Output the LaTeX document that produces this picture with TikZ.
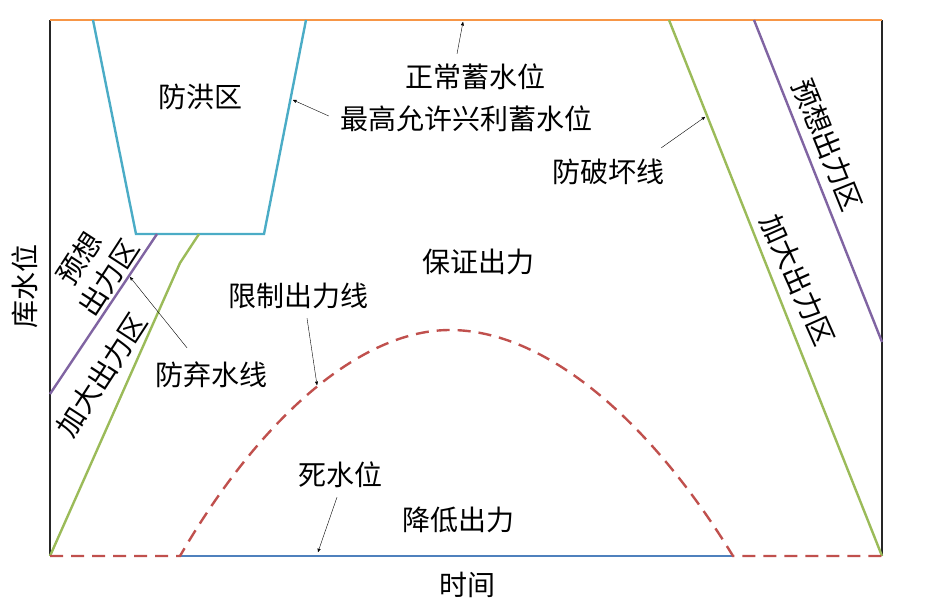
\documentclass[tikz,border=0pt]{standalone}
\usepackage{fontspec}
\newfontfamily\cjk{Noto Sans CJK SC}
\usetikzlibrary{arrows}
\definecolor{normorange}{HTML}{F79646}
\definecolor{floodcyan}{HTML}{4BACC6}
\definecolor{guardgreen}{HTML}{9BBB59}
\definecolor{prepurple}{HTML}{8064A2}
\definecolor{limitred}{HTML}{C0504D}
\definecolor{deadblue}{HTML}{4F81BD}
\tikzset{
    zone/.style={
           font=\cjk\fontsize{28}{35}\selectfont,
           inner sep=1pt,
           text centered,
           },
    curve/.style={line width=2.4pt},
    frame/.style={line width=1.3pt, draw=black!85},
    pointer/.style={->, thin, draw=black},
}
\begin{document}
\begin{tikzpicture}[x=1pt,y=-1pt,>=stealth']
 \useasboundingbox (0,0) rectangle (931,602);

 % frame of the chart
 \draw[frame] (50,20) -- (50,556);
 \draw[frame] (882,20) -- (882,556);
 \draw[curve, normorange] (50,20) -- (882,20);

 % flood control zone
 \draw[curve, floodcyan] (93,20) -- (136,234) -- (264,234) -- (306,20);

 % guide lines at the left and right
 \draw[curve, prepurple] (157,234) -- (50,394);
 \draw[curve, guardgreen] (199,234) -- (180,263) -- (50,556);
 \draw[curve, guardgreen] (669,20) -- (882,556);
 \draw[curve, prepurple] (754,20) -- (882,342);

 % dead water level and limit line
 \draw[curve, deadblue] (180,556) -- (733,556);
 \draw[curve, limitred, dash pattern=on 13pt off 8pt] (50,556) -- (180,556)
   .. controls (265,410) and (365,330) .. (450,330)
   .. controls (545,330) and (650,420) .. (733,556) -- (882,556);

 % labels
 \node[zone] (flood) at (200,97) {防洪区};
 \node[zone] (normal) at (475,77) {正常蓄水位};
 \node[zone] (maxlvl) at (466,119) {最高允许兴利蓄水位};
 \node[zone] (antibreak) at (608,172) {防破坏线};
 \node[zone] (assured) at (478,262) {保证出力};
 \node[zone] (limit) at (298,296) {限制出力线};
 \node[zone] (antispill) at (211,375) {防弃水线};
 \node[zone] (dead) at (340,475) {死水位};
 \node[zone] (reduced) at (458,520) {降低出力};
 \node[zone] (time) at (467,585) {时间};
 \node[zone, rotate=90] (level) at (25,286) {库水位};
 \node[zone, rotate=57, align=center] (expLeft) at (94,268) {预想\\出力区};
 \node[zone, rotate=57] (incLeft) at (102,375) {加大出力区};
 \node[zone, rotate=-68] (expRight) at (828,145) {预想出力区};
 \node[zone, rotate=-66] (incRight) at (798,280) {加大出力区};

 % tips of the pointers
 \coordinate (normalTip) at (463,22);
 \coordinate (maxTip) at (293,100);
 \coordinate (breakTip) at (705,117);
 \coordinate (limitTip) at (317,385);
 \coordinate (spillTip) at (130,277);
 \coordinate (deadTip) at (318,552);

 \draw[pointer] ([xshift=-18pt,yshift=9pt]normal.north) -- (normalTip);
 \draw[pointer] ([xshift=-10pt,yshift=3pt]maxlvl.west) -- (maxTip);
 \draw[pointer] ([xshift=-4pt,yshift=10pt]antibreak.north east) -- (breakTip);
 \draw[pointer] ([xshift=9pt,yshift=-8pt]limit.south) -- (limitTip);
 \draw[pointer] ([xshift=-24pt,yshift=13pt]antispill.north) -- (spillTip);
 \draw[pointer] ([xshift=-3pt,yshift=-8pt]dead.south) -- (deadTip);

\end{tikzpicture}
\end{document}
